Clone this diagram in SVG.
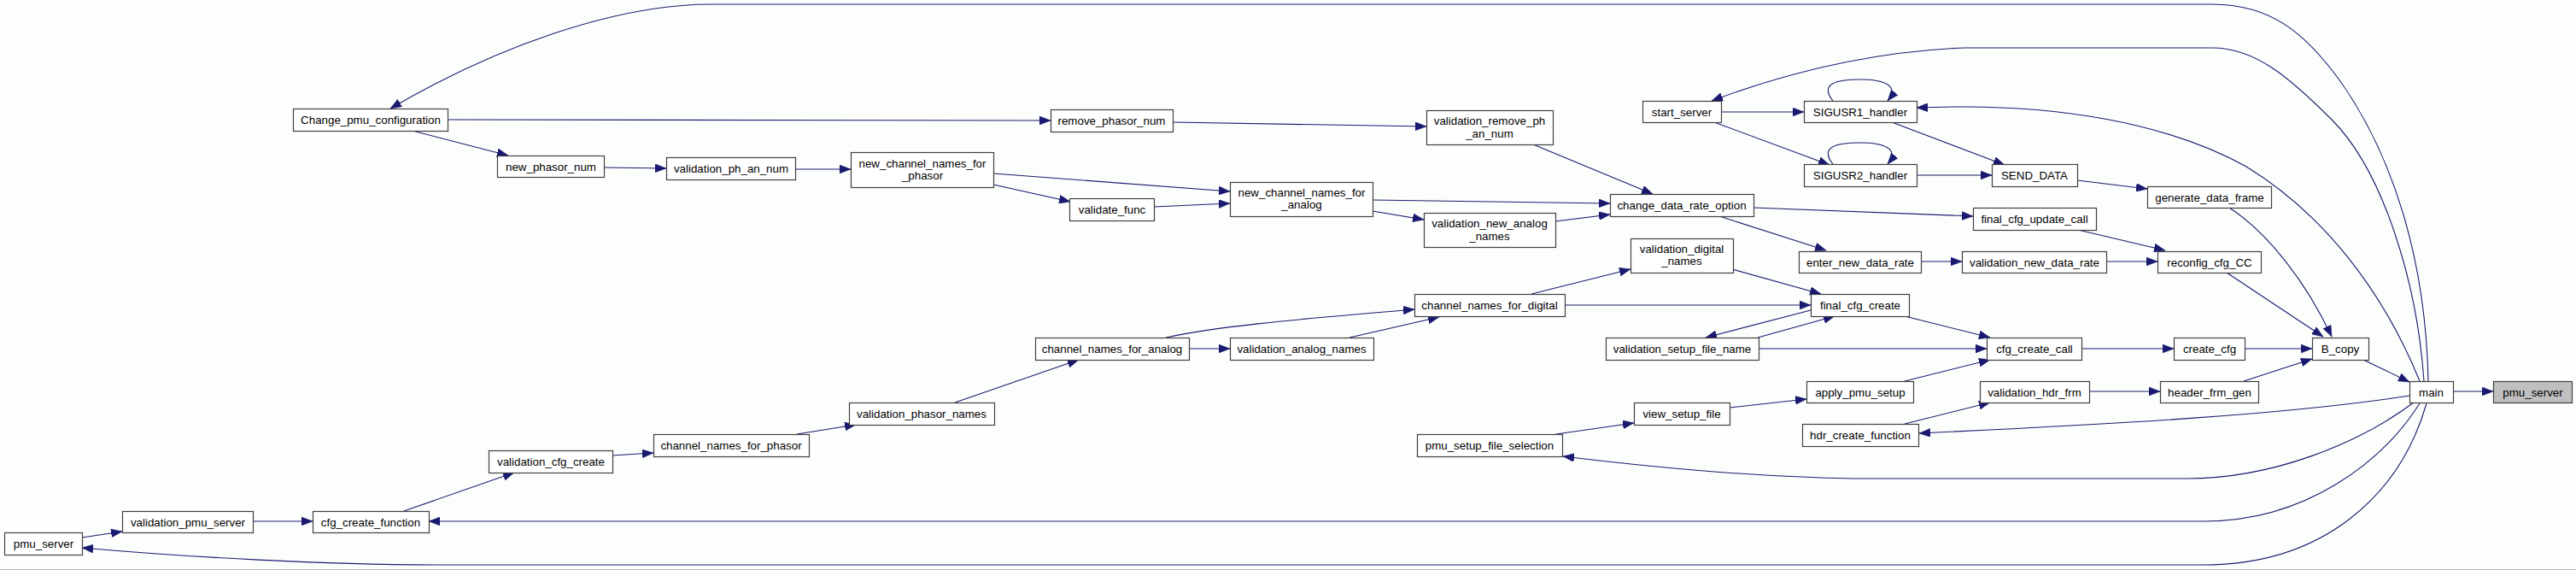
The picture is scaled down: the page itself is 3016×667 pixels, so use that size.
<svg xmlns="http://www.w3.org/2000/svg" width="3016" height="667" viewBox="0 0 3016 667">
<style>
.n rect{fill:#ffffff;stroke:#404040;stroke-width:1.2}
.n.f rect{fill:#bfbfbf}
.n text{font-family:"Liberation Sans",Arial,sans-serif;font-size:13.33px;text-anchor:middle;fill:#000}
.e path{fill:none;stroke:#191970;stroke-width:1.1;marker-end:url(#a)}
</style>
<defs>
<marker id="a" markerUnits="userSpaceOnUse" markerWidth="13" markerHeight="10" refX="13" refY="5" orient="auto" viewBox="0 0 13 10">
<path d="M0,0 L13,5 L0,10 z" fill="#191970" stroke="#191970" stroke-width="0.5"/>
</marker>
</defs>
<rect x="0" y="0" width="3016" height="667" fill="#fcfefc"/>
<rect x="0" y="666" width="3016" height="1" fill="#b4b4b4"/>
<g id="connectors" class="e">
<path d="M2843,446 C2840,300 2800,180 2740,95 C2700,40 2660,5 2590,5 L833,5 C720,5 580,55 457,127"/>
<path d="M2838,446 C2830,330 2790,200 2730,140 C2680,90 2640,56 2590,56 L2300,56 C2200,60 2100,82 2004,118"/>
<path d="M2833,446 C2790,340 2720,250 2630,195 C2530,140 2400,124 2290,125 L2244,126"/>
<path d="M2610,243 C2655,272 2700,330 2730,394"/>
<path d="M2607,319 L2720,394"/>
<path d="M2767,421 L2821,447"/>
<path d="M2627,446 L2707,420"/>
<path d="M2628,408 L2707,408"/>
<path d="M2437,408 L2545,408"/>
<path d="M2446,458 L2529,458"/>
<path d="M2872,458 L2919,458"/>
<path d="M2821,463 C2680,485 2480,496 2247,507"/>
<path d="M2826,471 C2760,520 2660,560 2560,560 L2170,560 C2050,558 1920,545 1830,534"/>
<path d="M2833,472 C2790,540 2700,610 2580,610 L502,610"/>
<path d="M2841,472 C2810,580 2720,661 2580,661 L520,661 C380,661 220,652 96,641"/>
<path d="M524,140 L1230,141"/>
<path d="M483,153 L595,182"/>
<path d="M707,196 L780,197"/>
<path d="M931,198 L996,198"/>
<path d="M1163,203 L1440,224"/>
<path d="M1163,216 L1253,236"/>
<path d="M1351,242 L1440,238"/>
<path d="M1373,143 L1670,148"/>
<path d="M1795,169 L1935,227"/>
<path d="M1607,234 L1885,238"/>
<path d="M1607,247 L1667,257"/>
<path d="M1821,259 L1885,251"/>
<path d="M2015,131 L2112,131"/>
<path d="M2007,143 L2142,193"/>
<path d="M2215,143 L2347,193"/>
<path d="M2244,205 L2332,205"/>
<path d="M2432,211 L2514,221"/>
<path d="M2146,118 C2130,98 2150,93 2178,93 C2205,93 2225,100 2210,118"/>
<path d="M2146,192 C2130,172 2150,167 2178,167 C2205,167 2225,174 2210,192"/>
<path d="M2053,243 L2310,253"/>
<path d="M2013,253 L2138,293"/>
<path d="M2249,306 L2297,306"/>
<path d="M2466,306 L2526,306"/>
<path d="M2433,269 L2535,293"/>
<path d="M96,629 L143,622"/>
<path d="M296,610 L366,610"/>
<path d="M473,598 L602,553"/>
<path d="M717,533 L765,530"/>
<path d="M933,508 L1002,497"/>
<path d="M1118,471 L1263,421"/>
<path d="M1392,408 L1440,408"/>
<path d="M1365,395 C1420,383 1500,375 1656,362"/>
<path d="M1580,395 L1685,371"/>
<path d="M1793,344 L1909,315"/>
<path d="M1832,357 L2120,357"/>
<path d="M2028,315 L2132,344"/>
<path d="M2120,363 L1997,395"/>
<path d="M2058,395 L2148,370"/>
<path d="M2059,408 L2326,408"/>
<path d="M2230,370 L2330,395"/>
<path d="M2230,446 L2330,421"/>
<path d="M2025,477 L2115,467"/>
<path d="M1822,508 L1913,495"/>
<path d="M2230,496 L2330,471"/>
</g>
<g id="n_Change_pmu_configuration" class="n"><rect x="343.5" y="127.5" width="181" height="26"/><text x="434" y="145">Change_pmu_configuration</text></g>
<g id="n_remove_phasor_num" class="n"><rect x="1230.5" y="128.5" width="143" height="26"/><text x="1301.5" y="146">remove_phasor_num</text></g>
<g id="n_new_phasor_num" class="n"><rect x="582.5" y="182.5" width="125" height="25"/><text x="645" y="199.5">new_phasor_num</text></g>
<g id="n_validation_ph_an_num" class="n"><rect x="780.5" y="184.5" width="151" height="26"/><text x="856" y="202">validation_ph_an_num</text></g>
<g id="n_new_channel_names_for_phasor" class="n"><rect x="996.5" y="178.5" width="167" height="41"/><text x="1080" y="195.5">new_channel_names_for</text><text x="1080" y="209.5">_phasor</text></g>
<g id="n_validate_func" class="n"><rect x="1252.5" y="232.5" width="99" height="26"/><text x="1302" y="250">validate_func</text></g>
<g id="n_new_channel_names_for_analog" class="n"><rect x="1440.5" y="213.5" width="167" height="40"/><text x="1524" y="229.5">new_channel_names_for</text><text x="1524" y="243.5">_analog</text></g>
<g id="n_validation_remove_ph_an_num" class="n"><rect x="1670.5" y="129.5" width="148" height="40"/><text x="1744" y="145.5">validation_remove_ph</text><text x="1744" y="160.5">_an_num</text></g>
<g id="n_validation_new_analog_names" class="n"><rect x="1667.5" y="249.5" width="154" height="40"/><text x="1744" y="265.5">validation_new_analog</text><text x="1744" y="280.5">_names</text></g>
<g id="n_change_data_rate_option" class="n"><rect x="1885.5" y="227.5" width="168" height="26"/><text x="1969" y="245">change_data_rate_option</text></g>
<g id="n_start_server" class="n"><rect x="1923.5" y="118.5" width="92" height="25"/><text x="1969" y="135.5">start_server</text></g>
<g id="n_validation_digital_names" class="n"><rect x="1909.5" y="279.5" width="120" height="40"/><text x="1969" y="295.5">validation_digital</text><text x="1969" y="309.5">_names</text></g>
<g id="n_SIGUSR1_handler" class="n"><rect x="2112.5" y="118.5" width="132" height="25"/><text x="2178" y="135.5">SIGUSR1_handler</text></g>
<g id="n_SIGUSR2_handler" class="n"><rect x="2112.5" y="192.5" width="132" height="26"/><text x="2178" y="210">SIGUSR2_handler</text></g>
<g id="n_SEND_DATA" class="n"><rect x="2332.5" y="192.5" width="100" height="26"/><text x="2382" y="210">SEND_DATA</text></g>
<g id="n_final_cfg_update_call" class="n"><rect x="2310.5" y="243.5" width="144" height="26"/><text x="2382" y="261">final_cfg_update_call</text></g>
<g id="n_enter_new_data_rate" class="n"><rect x="2106.5" y="294.5" width="143" height="25"/><text x="2178" y="311.5">enter_new_data_rate</text></g>
<g id="n_validation_new_data_rate" class="n"><rect x="2297.5" y="294.5" width="169" height="25"/><text x="2382" y="311.5">validation_new_data_rate</text></g>
<g id="n_generate_data_frame" class="n"><rect x="2514.5" y="218.5" width="145" height="25"/><text x="2587" y="235.5">generate_data_frame</text></g>
<g id="n_reconfig_cfg_CC" class="n"><rect x="2526.5" y="294.5" width="121" height="25"/><text x="2587" y="311.5">reconfig_cfg_CC</text></g>
<g id="n_pmu_server_caller" class="n"><rect x="5.5" y="623.5" width="91" height="26"/><text x="51" y="641">pmu_server</text></g>
<g id="n_validation_pmu_server" class="n"><rect x="143.5" y="598.5" width="153" height="25"/><text x="220" y="615.5">validation_pmu_server</text></g>
<g id="n_cfg_create_function" class="n"><rect x="366.5" y="598.5" width="136" height="25"/><text x="434" y="615.5">cfg_create_function</text></g>
<g id="n_validation_cfg_create" class="n"><rect x="572.5" y="527.5" width="145" height="26"/><text x="645" y="545">validation_cfg_create</text></g>
<g id="n_channel_names_for_phasor" class="n"><rect x="765.5" y="508.5" width="182" height="26"/><text x="856" y="526">channel_names_for_phasor</text></g>
<g id="n_validation_phasor_names" class="n"><rect x="994.5" y="471.5" width="170" height="26"/><text x="1079" y="489">validation_phasor_names</text></g>
<g id="n_channel_names_for_analog" class="n"><rect x="1212.5" y="395.5" width="180" height="26"/><text x="1302" y="413">channel_names_for_analog</text></g>
<g id="n_validation_analog_names" class="n"><rect x="1440.5" y="395.5" width="168" height="26"/><text x="1524" y="413">validation_analog_names</text></g>
<g id="n_channel_names_for_digital" class="n"><rect x="1656.5" y="344.5" width="176" height="26"/><text x="1744" y="362">channel_names_for_digital</text></g>
<g id="n_validation_setup_file_name" class="n"><rect x="1880.5" y="395.5" width="179" height="26"/><text x="1969.5" y="413">validation_setup_file_name</text></g>
<g id="n_view_setup_file" class="n"><rect x="1913.5" y="471.5" width="112" height="26"/><text x="1969" y="489">view_setup_file</text></g>
<g id="n_pmu_setup_file_selection" class="n"><rect x="1659.5" y="508.5" width="170" height="26"/><text x="1744" y="526">pmu_setup_file_selection</text></g>
<g id="n_final_cfg_create" class="n"><rect x="2120.5" y="344.5" width="115" height="26"/><text x="2178" y="362">final_cfg_create</text></g>
<g id="n_cfg_create_call" class="n"><rect x="2326.5" y="395.5" width="111" height="26"/><text x="2382" y="413">cfg_create_call</text></g>
<g id="n_apply_pmu_setup" class="n"><rect x="2115.5" y="446.5" width="125" height="25"/><text x="2178" y="463.5">apply_pmu_setup</text></g>
<g id="n_validation_hdr_frm" class="n"><rect x="2318.5" y="446.5" width="128" height="25"/><text x="2382" y="463.5">validation_hdr_frm</text></g>
<g id="n_hdr_create_function" class="n"><rect x="2110.5" y="496.5" width="136" height="26"/><text x="2178" y="514">hdr_create_function</text></g>
<g id="n_create_cfg" class="n"><rect x="2545.5" y="395.5" width="83" height="26"/><text x="2587" y="413">create_cfg</text></g>
<g id="n_B_copy" class="n"><rect x="2707.5" y="395.5" width="66" height="26"/><text x="2740" y="413">B_copy</text></g>
<g id="n_header_frm_gen" class="n"><rect x="2529.5" y="446.5" width="115" height="25"/><text x="2587" y="463.5">header_frm_gen</text></g>
<g id="n_main" class="n"><rect x="2821.5" y="446.5" width="51" height="25"/><text x="2846.5" y="463.5">main</text></g>
<g id="n_pmu_server" class="n f"><rect x="2919.5" y="446.5" width="92" height="25"/><text x="2965.5" y="463.5">pmu_server</text></g>
</svg>
